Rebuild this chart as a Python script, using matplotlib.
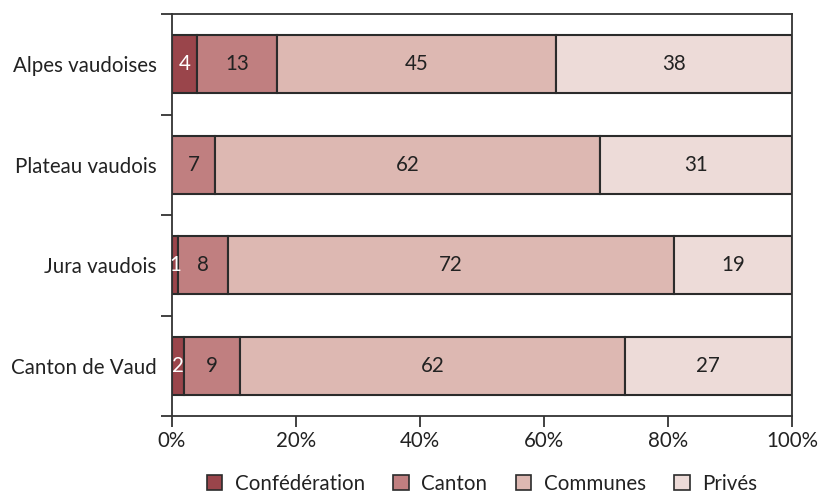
import matplotlib
matplotlib.use("Agg")
import matplotlib.pyplot as plt
from matplotlib.ticker import FuncFormatter
from matplotlib.patches import Patch

plt.rcParams['font.family'] = ['Lato', 'DejaVu Sans']

regions = ["Alpes vaudoises", "Plateau vaudois", "Jura vaudois", "Canton de Vaud"]
owners = ["Confédération", "Canton", "Communes", "Privés"]
confederation = [4, 0, 1, 2]
canton = [13, 7, 8, 9]
communes = [45, 62, 72, 62]
prives = [38, 31, 19, 27]
series = [confederation, canton, communes, prives]

colors = ["#9a454b", "#c07f80", "#ddb8b2", "#eddbd8"]
text_colors = ["white", "#222222", "#222222", "#222222"]
edge = "#2b2b2b"
spine_col = "#333333"
fs = 14.8

fig = plt.figure(figsize=(8.2, 4.95), dpi=100)
ax = fig.add_axes([172/820, 1-416/495, (792-172)/820, (416-14)/495])

ypos = list(range(len(regions)))
left = [0]*len(regions)
for vals, col, tcol in zip(series, colors, text_colors):
    ax.barh(ypos, vals, left=left, height=0.58, color=col,
            edgecolor=edge, linewidth=1.5)
    for y, v, l in zip(ypos, vals, left):
        if v > 0:
            ax.text(l + v/2, y, str(v), ha="center", va="center",
                    color=tcol, fontsize=fs)
    left = [a + b for a, b in zip(left, vals)]

ax.set_xlim(0, 100)
ax.set_ylim(len(regions) - 0.5, -0.5)
ax.set_xticks([0, 20, 40, 60, 80, 100])
ax.xaxis.set_major_formatter(FuncFormatter(lambda v, p: f"{int(v)}%"))
ax.set_yticks(ypos)
ax.set_yticklabels(regions)
ax.set_yticks([y - 0.5 for y in range(len(regions) + 1)], minor=True)
ax.tick_params(axis="y", which="major", length=0, pad=11, labelsize=fs, colors="#222222")
ax.tick_params(axis="y", which="minor", length=8, width=1.3, color=spine_col)
ax.tick_params(axis="x", length=8, width=1.3, color=spine_col, labelsize=fs,
               labelcolor="#222222", pad=3)
for s in ax.spines.values():
    s.set_color(spine_col)
    s.set_linewidth(1.3)

handles = [Patch(facecolor=c, edgecolor=edge, linewidth=1.2) for c in colors]
fig.legend(handles, owners, loc="center", bbox_to_anchor=(482/820, 1-484/495),
           ncol=4, frameon=False, fontsize=fs, handlelength=0.75, handleheight=0.75,
           handletextpad=0.6, columnspacing=1.4, labelcolor="#222222")

fig.savefig("out.png", dpi=100)
